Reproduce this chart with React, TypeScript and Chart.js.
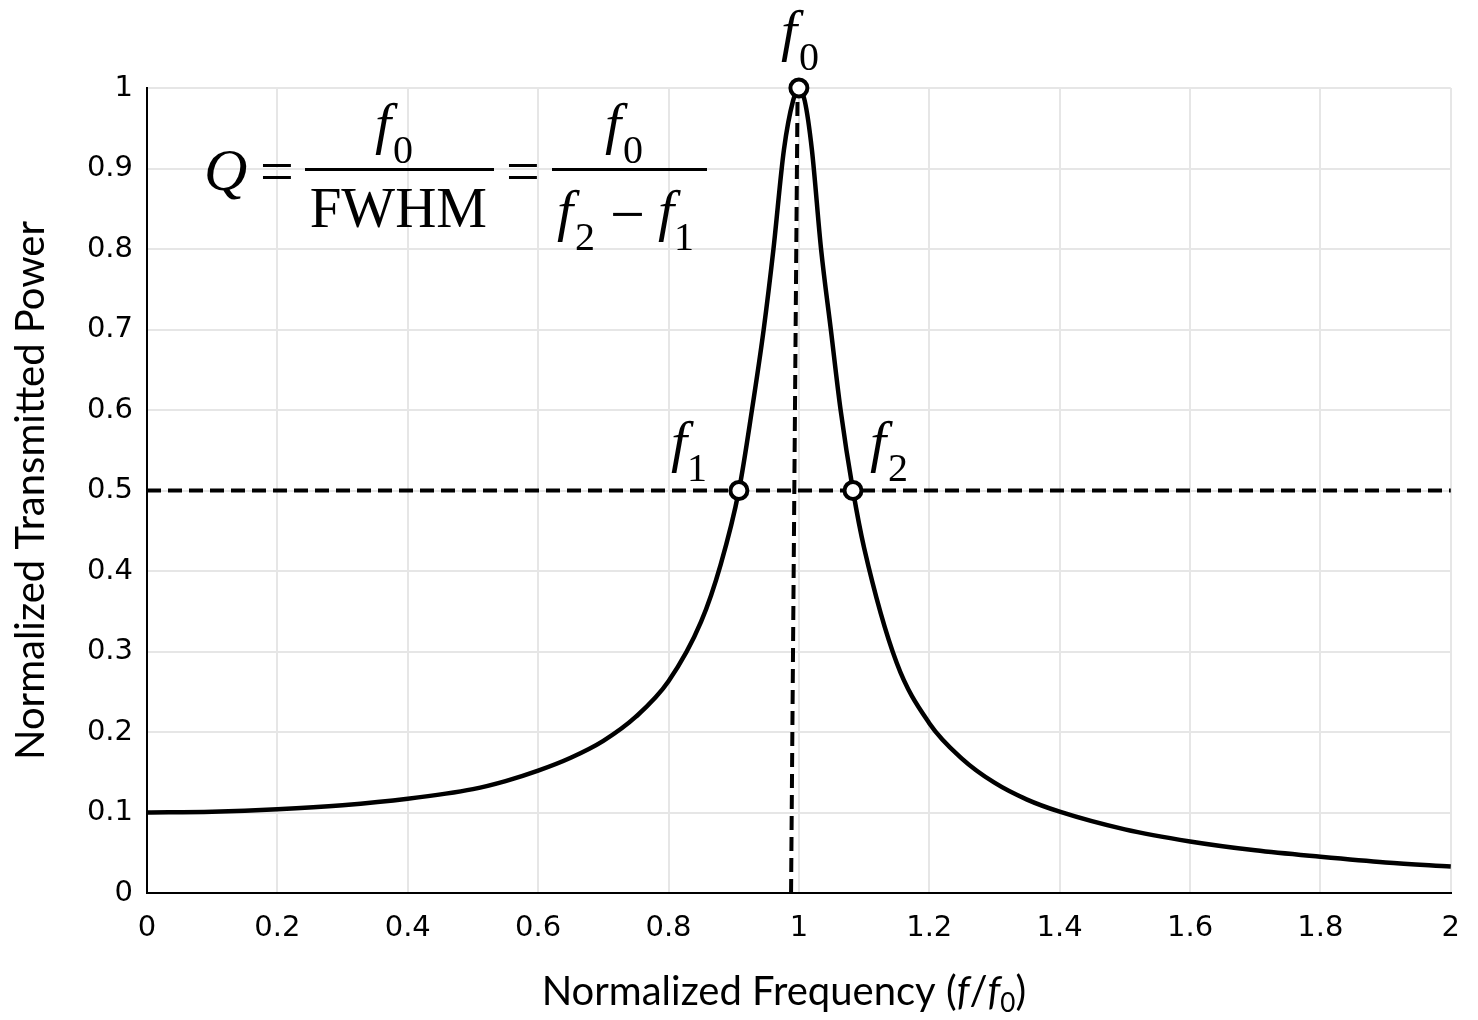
import React, { useEffect, useRef } from "react";
import { Chart, registerables } from "chart.js";

Chart.register(...registerables);

// ---- data ----
const freq = [
  0, 0.1, 0.2, 0.3, 0.4, 0.5, 0.55, 0.6, 0.65, 0.7, 0.75, 0.8, 0.85, 0.88, 0.908, 0.928, 0.946, 0.961, 0.977, 0.991, 1.0,
  1.009, 1.02, 1.034, 1.049, 1.064, 1.083, 1.1, 1.15, 1.2, 1.25, 1.3, 1.35, 1.4, 1.5, 1.6, 1.7, 1.8, 1.9, 2.0,
];
const power = [
  0.1, 0.101, 0.104, 0.109, 0.117, 0.129, 0.139, 0.152, 0.168, 0.189, 0.219, 0.263, 0.337, 0.408, 0.5, 0.6, 0.7, 0.8,
  0.923, 0.984, 1.0, 0.984, 0.923, 0.8, 0.7, 0.6, 0.5, 0.429, 0.286, 0.211, 0.167, 0.137, 0.116, 0.101, 0.079, 0.064,
  0.053, 0.045, 0.038, 0.033,
];
const markerFreq = [0.908, 1.0, 1.083];
const markerPower = [0.5, 1.0, 0.5];
const markerSubs = ["1", "0", "2"];
const halfLineFreq = [0, 2];
const halfLinePower = [0.5, 0.5];
const centerLineFreq = [0.988, 0.998];
const centerLinePower = [0, 1];
const xMin = 0, xMax = 2, xStep = 0.2;
const yMin = 0, yMax = 1, yStep = 0.1;
const xTitleMain = "Normalized Frequency (";
const yTitle = "Normalized Transmitted Power";

const SERIF = "'Liberation Serif', 'Times New Roman', serif";
const SANS_T = "Lato, 'Open Sans', sans-serif";
const TITLE_SIZE = 40;

type Pos = { left?: number; cx?: number; bottom?: number; cy?: number; baseline?: number };

function place(ctx: CanvasRenderingContext2D, text: string, font: string, p: Pos) {
  ctx.font = font;
  ctx.textAlign = "left";
  ctx.textBaseline = "alphabetic";
  const m = ctx.measureText(text);
  const l = m.actualBoundingBoxLeft, r = m.actualBoundingBoxRight;
  const a = m.actualBoundingBoxAscent, d = m.actualBoundingBoxDescent;
  let x = 0, y = 0;
  if (p.left !== undefined) x = p.left + l;
  else if (p.cx !== undefined) x = p.cx - (r - l) / 2;
  if (p.baseline !== undefined) y = p.baseline;
  else if (p.bottom !== undefined) y = p.bottom - d;
  else if (p.cy !== undefined) y = p.cy + (a - d) / 2;
  ctx.fillText(text, x, y);
  return { right: x + r, left: x - l };
}

const fFont = `italic 58px ${SERIF}`;
const subFont = `40px ${SERIF}`;

function drawF(ctx: CanvasRenderingContext2D, left: number, bottom: number, sub: string) {
  const box = place(ctx, "f", fFont, { left, bottom });
  place(ctx, sub, subFont, { left: box.right - 4, bottom: bottom + 8 });
}

const annotationPlugin = {
  id: "annotations",
  afterDraw(chart: any) {
    const ctx: CanvasRenderingContext2D = chart.ctx;
    const xs = chart.scales.x, ys = chart.scales.y;
    const L = chart.chartArea.left, T = chart.chartArea.top;
    ctx.save();
    ctx.fillStyle = "#000";

    // formula Q = f0/FWHM = f0/(f2 - f1)
    const ox = L, oy = T;
    place(ctx, "Q", `italic 60px ${SERIF}`, { left: ox + 60, bottom: oy + 112 });
    place(ctx, "=", `60px ${SERIF}`, { left: ox + 115, cy: oy + 83.5 });
    ctx.fillRect(ox + 158, oy + 80, 189, 3);
    drawF(ctx, ox + 228, oy + 67, "0");
    place(ctx, "FWHM", `57px ${SERIF}`, { cx: ox + 251.5, bottom: oy + 140 });
    place(ctx, "=", `60px ${SERIF}`, { left: ox + 361, cy: oy + 83.5 });
    ctx.fillRect(ox + 405, oy + 80, 155, 3);
    drawF(ctx, ox + 458, oy + 67, "0");
    drawF(ctx, ox + 410, oy + 154, "2");
    place(ctx, "\u2212", `62px ${SERIF}`, { left: ox + 466, cy: oy + 126 });
    drawF(ctx, ox + 511, oy + 154, "1");

    // point labels
    const offs = [
      { dx: -68, dy: -18 },
      { dx: -18, dy: -26 },
      { dx: 17, dy: -18 },
    ];
    for (let i = 0; i < markerFreq.length; i++) {
      const px = xs.getPixelForValue(markerFreq[i]);
      const py = ys.getPixelForValue(markerPower[i]);
      drawF(ctx, px + offs[i].dx, py + offs[i].dy, markerSubs[i]);
    }

    // x axis title with italic f and subscript
    const s = TITLE_SIZE;
    const runs: { t: string; f: string; dy: number }[] = [
      { t: xTitleMain, f: `${s}px ${SANS_T}`, dy: 0 },
      { t: "f", f: `italic ${s}px ${SANS_T}`, dy: 0 },
      { t: "/", f: `${s}px ${SANS_T}`, dy: 0 },
      { t: "f", f: `italic ${s}px ${SANS_T}`, dy: 0 },
      { t: "0", f: `${Math.round(s * 0.65)}px ${SANS_T}`, dy: 7 },
      { t: ")", f: `${s}px ${SANS_T}`, dy: 0 },
    ];
    ctx.textAlign = "left";
    ctx.textBaseline = "alphabetic";
    let total = 0;
    const widths: number[] = [];
    for (const r of runs) {
      ctx.font = r.f;
      const w = ctx.measureText(r.t).width;
      widths.push(w);
      total += w;
    }
    const cx = (chart.chartArea.left + chart.chartArea.right) / 2 - 15;
    let x = cx - total / 2;
    const base = chart.chartArea.bottom + 112;
    runs.forEach((r, i) => {
      ctx.font = r.f;
      ctx.fillText(r.t, x, base + r.dy);
      x += widths[i];
    });
    ctx.restore();
  },
};

export default function App() {
  const ref = useRef<HTMLCanvasElement | null>(null);
  useEffect(() => {
    document.body.style.margin = "0";
    const canvas = ref.current!;
    const curve = freq.map((f, i) => ({ x: f, y: power[i] }));
    const markers = markerFreq.map((f, i) => ({ x: f, y: markerPower[i] }));
    const half = halfLineFreq.map((f, i) => ({ x: f, y: halfLinePower[i] }));
    const center = centerLineFreq.map((f, i) => ({ x: f, y: centerLinePower[i] }));
    const chart = new Chart(canvas, {
      type: "line",
      data: {
        datasets: [
          {
            data: markers as any,
            showLine: false,
            pointRadius: 8.5,
            pointBorderWidth: 4,
            pointBackgroundColor: "#fff",
            pointBorderColor: "#000",
            clip: false as any,
            order: 0,
          },
          {
            data: curve as any,
            borderColor: "#000",
            borderWidth: 4.5,
            pointRadius: 0,
            cubicInterpolationMode: "monotone",
            clip: false as any,
            order: 1,
          },
          {
            data: half as any,
            borderColor: "#000",
            borderWidth: 4,
            borderDash: [14, 7],
            pointRadius: 0,
            clip: false as any,
            order: 2,
          },
          {
            data: center as any,
            borderColor: "#000",
            borderWidth: 4,
            borderDash: [14, 7],
            pointRadius: 0,
            clip: false as any,
            order: 2,
          },
        ],
      },
      options: {
        animation: false,
        responsive: false,
        devicePixelRatio: 1,
        layout: { padding: { top: 88, right: 25, left: 0, bottom: 0 } },
        plugins: { legend: { display: false }, tooltip: { enabled: false } },
        scales: {
          x: {
            type: "linear",
            min: xMin,
            max: xMax,
            afterFit: (sc: any) => {
              sc.height = 127;
            },
            ticks: {
              stepSize: xStep,
              color: "#000",
              padding: 18,
              maxRotation: 0,
              font: { family: "'DejaVu Sans'", size: 29 },
              callback: (v: any) => String(Number(Number(v).toFixed(1))),
            },
            grid: { color: "#e6e6e6", lineWidth: 2, drawTicks: false },
            border: { display: true, color: "#000", width: 2 },
            title: { display: false },
          },
          y: {
            type: "linear",
            min: yMin,
            max: yMax,
            afterFit: (sc: any) => {
              sc.width = 147;
            },
            ticks: {
              stepSize: yStep,
              color: "#000",
              padding: 14,
              font: { family: "'DejaVu Sans'", size: 29 },
              callback: (v: any) => String(Number(Number(v).toFixed(1))),
            },
            grid: { color: "#e6e6e6", lineWidth: 2, drawTicks: false },
            border: { display: true, color: "#000", width: 2 },
            title: {
              display: true,
              text: yTitle,
              color: "#000",
              font: { family: SANS_T, size: TITLE_SIZE },
              padding: { top: 7, bottom: 0 },
            },
          },
        },
      },
      plugins: [annotationPlugin],
    });
    return () => chart.destroy();
  }, []);
  return (
    <div style={{ width: 1478, height: 1020, background: "#fff" }}>
      <canvas ref={ref} width={1478} height={1020} style={{ display: "block" }} />
    </div>
  );
}
